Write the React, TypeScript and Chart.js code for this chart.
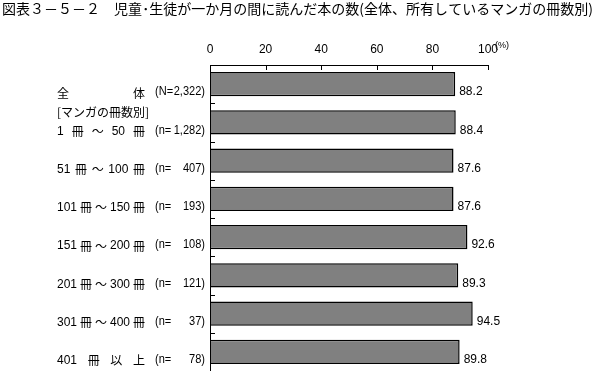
import React, { useEffect, useRef } from "react";
import { Chart, registerables } from "chart.js";

Chart.register(...registerables);

const titleText = "図表３－５－２　児童･生徒が一か月の間に読んだ本の数(全体、所有しているマンガの冊数別)";
const categories = [
  "全 体",
  "1 冊 ～ 50 冊",
  "51 冊 ～ 100 冊",
  "101 冊 ～ 150 冊",
  "151 冊 ～ 200 冊",
  "201 冊 ～ 300 冊",
  "301 冊 ～ 400 冊",
  "401 冊 以 上",
];
const groupHeader = "[マンガの冊数別]";
const samplePrefixes = ["(N=", "(n=", "(n=", "(n=", "(n=", "(n=", "(n=", "(n="];
const sampleSizes = ["2,322)", "1,282)", "407)", "193)", "108)", "121)", "37)", "78)"];
const values = [88.2, 88.4, 87.6, 87.6, 92.6, 89.3, 94.5, 89.8];
const xTicks = [0, 20, 40, 60, 80, 100];
const unitLabel = "(%)";

const JP = '"Noto Sans CJK JP", "Noto Sans", sans-serif';
const NUM = '"Liberation Sans", Arial, sans-serif';

const overlay = {
  id: "overlay",
  afterDraw(chart: any) {
    const ctx = chart.ctx as CanvasRenderingContext2D;
    const xs = chart.scales.x;
    const ys = chart.scales.y;
    const area = chart.chartArea;
    ctx.save();
    ctx.fillStyle = "#000";
    ctx.strokeStyle = "#000";

    // title, fitted to width
    ctx.font = `14px ${JP}`;
    ctx.textBaseline = "middle";
    ctx.textAlign = "left";
    const tw = ctx.measureText(titleText).width;
    const target = 591;
    ctx.save();
    ctx.translate(2, 9);
    ctx.scale(target / tw, 1);
    ctx.fillText(titleText, 0, 0);
    ctx.restore();

    // axes
    ctx.lineWidth = 1;
    ctx.beginPath();
    ctx.moveTo(area.left, area.top + 0.5);
    ctx.lineTo(area.right + 0.5, area.top + 0.5);
    ctx.moveTo(area.left + 0.5, area.top);
    ctx.lineTo(area.left + 0.5, area.bottom);
    xTicks.forEach((t) => {
      const px = Math.round(xs.getPixelForValue(t)) + 0.5;
      ctx.moveTo(px, area.top);
      ctx.lineTo(px, area.top + 5);
    });
    const n = categories.length;
    const step = (area.bottom - area.top) / n;
    for (let k = 1; k < n; k++) {
      const py = Math.round(area.top + step * k) + 0.5;
      ctx.moveTo(area.left, py);
      ctx.lineTo(area.left + 5, py);
    }
    ctx.stroke();

    // x tick labels
    ctx.font = `12px ${NUM}`;
    ctx.textAlign = "center";
    xTicks.forEach((t) => {
      ctx.fillText(String(t), xs.getPixelForValue(t), 50);
    });
    ctx.font = `9px ${NUM}`;
    ctx.textAlign = "left";
    ctx.fillText(unitLabel, xs.getPixelForValue(100) + 7, 46);

    // category labels
    const left = 57;
    const right = 145;
    const rowYs: number[] = [];
    categories.forEach((c, i) => {
      const cy = ys.getPixelForValue(i) + 9;
      rowYs.push(cy);
      const toks = c.split(" ");
      const ws = toks.map((t) => {
        ctx.font = /[0-9]/.test(t) ? `12px ${NUM}` : `12px ${JP}`;
        return ctx.measureText(t).width;
      });
      const sum = ws.reduce((a, b) => a + b, 0);
      const gap = toks.length > 1 ? (right - left - sum) / (toks.length - 1) : 0;
      let x = left;
      toks.forEach((t, j) => {
        ctx.font = /[0-9]/.test(t) ? `12px ${NUM}` : `12px ${JP}`;
        ctx.textAlign = "left";
        ctx.fillText(t, x, cy);
        x += ws[j] + gap;
      });
      // sample sizes
      ctx.font = `12px ${NUM}`;
      ctx.save();
      ctx.translate(155, cy - 1);
      ctx.scale(0.92, 1);
      ctx.textAlign = "left";
      ctx.fillText(samplePrefixes[i], 0, 0);
      ctx.textAlign = "right";
      ctx.fillText(sampleSizes[i], 50 / 0.92, 0);
      ctx.restore();
    });
    ctx.font = `12px ${JP}`;
    ctx.textAlign = "left";
    ctx.fillText(groupHeader, left, (rowYs[0] + rowYs[1]) / 2);

    // value labels
    ctx.font = `12px ${NUM}`;
    ctx.textAlign = "left";
    values.forEach((v, i) => {
      ctx.fillText(v.toFixed(1), xs.getPixelForValue(v) + 4, ys.getPixelForValue(i) + 8);
    });
    ctx.restore();
  },
};

export default function App() {
  const ref = useRef<HTMLCanvasElement | null>(null);
  useEffect(() => {
    if (!ref.current) return;
    const chart = new Chart(ref.current, {
      type: "bar",
      data: {
        labels: categories,
        datasets: [
          {
            data: values,
            backgroundColor: "#808080",
            borderColor: "#000000",
            borderWidth: 1.5,
            barPercentage: 0.64,
            categoryPercentage: 1,
          },
        ],
      },
      options: {
        indexAxis: "y",
        responsive: false,
        animation: false,
        layout: { padding: { left: 210, right: 107, top: 65, bottom: 3 } },
        scales: {
          x: { display: false, min: 0, max: 100 },
          y: { display: false },
        },
        plugins: {
          legend: { display: false },
          tooltip: { enabled: false },
          title: { display: false },
        },
      },
      plugins: [overlay],
    });
    return () => chart.destroy();
  }, []);
  return (
    <div style={{ position: "fixed", left: 0, top: 0, width: 595, height: 374, background: "#fff" }}>
      <canvas ref={ref} width={595} height={374} />
    </div>
  );
}
